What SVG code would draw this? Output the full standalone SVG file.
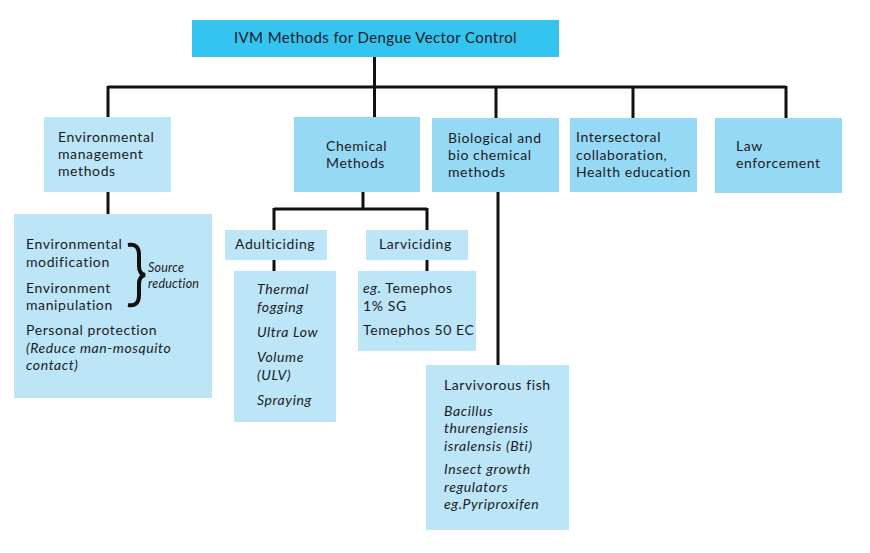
<svg xmlns="http://www.w3.org/2000/svg" width="870" height="553" viewBox="0 0 870 553">
<style>
.top{fill:#33c5f0}
.mid{fill:#96d9f5}
.lt{fill:#bce5f8}
text{font-family:Lato,"Liberation Sans",sans-serif;font-size:14px;fill:#1b1b24;letter-spacing:0.6px}
.i{font-style:italic}
.s{font-size:12.5px;font-style:italic;letter-spacing:0.2px}
.c{fill:none;stroke:#111;stroke-width:3}
</style>
<rect width="870" height="553" fill="#fff"/>
<g id="connectors">
<path class="c" d="M374.5 57V87M108 87H786M108 86V117M374.5 86V117M496 86V118M633 86V118M786 86V118"/>
<path class="c" d="M108 192V214"/>
<path class="c" d="M363 192V209M274 209H427M274 208V230M427 208V230M274 260V271M427 260V271"/>
<path class="c" d="M498 192V365"/>
</g>
<g id="n-top"><rect class="top" x="192" y="20" width="367" height="37"/><text x="375.5" y="43" text-anchor="middle" style="font-size:15px;letter-spacing:0.4px">IVM Methods for Dengue Vector Control</text></g>
<g id="n-env"><rect class="lt" x="44" y="117" width="127" height="75"/><text x="58" y="142">Environmental</text><text x="58" y="159">management</text><text x="58" y="176">methods</text></g>
<g id="n-chem"><rect class="mid" x="294" y="117" width="126" height="75"/><text x="326" y="151">Chemical</text><text x="326" y="168">Methods</text></g>
<g id="n-bio"><rect class="mid" x="432" y="118" width="127" height="74"/><text x="448" y="143">Biological and</text><text x="448" y="160">bio chemical</text><text x="448" y="177">methods</text></g>
<g id="n-inter"><rect class="mid" x="570" y="118" width="127" height="74"/><text x="576" y="142">Intersectoral</text><text x="576" y="160">collaboration,</text><text x="576" y="177">Health education</text></g>
<g id="n-law"><rect class="mid" x="715" y="118" width="127" height="75"/><text x="736" y="151">Law</text><text x="736" y="168">enforcement</text></g>
<g id="n-envdetail"><rect class="lt" x="14" y="214" width="198" height="184"/>
<text x="26" y="249">Environmental</text><text x="26" y="267">modification</text><text x="26" y="293">Environment</text><text x="26" y="310">manipulation</text><text x="26" y="335">Personal protection</text><text x="26" y="353" class="i">(Reduce man-mosquito</text><text x="26" y="370" class="i">contact)</text>
<path d="M128 245Q139 243 139 255V266Q139 274 145 275Q139 276 139 284V295Q139 307 128 305" fill="none" stroke="#111" stroke-width="4"/>
<text x="148" y="272" class="s">Source</text><text x="148" y="288" class="s">reduction</text></g>
<g id="n-adult"><rect class="lt" x="225" y="230" width="102" height="30"/><text x="235" y="249">Adulticiding</text></g>
<g id="n-larvi"><rect class="lt" x="366" y="230" width="102" height="30"/><text x="379" y="249">Larviciding</text></g>
<g id="n-adultdetail"><rect class="lt" x="234" y="271" width="102" height="151"/>
<text x="257" y="294" class="i">Thermal</text><text x="257" y="312" class="i">fogging</text><text x="257" y="337" class="i">Ultra Low</text><text x="257" y="362" class="i">Volume</text><text x="257" y="380" class="i">(ULV)</text><text x="257" y="405" class="i">Spraying</text></g>
<g id="n-larvidetail"><rect class="lt" x="358" y="271" width="118" height="80"/>
<text x="363" y="293"><tspan class="i">eg.</tspan> Temephos</text><text x="363" y="311">1% SG</text><text x="363" y="335">Temephos 50 EC</text></g>
<g id="n-biodetail"><rect class="lt" x="426" y="365" width="143" height="165"/>
<text x="444" y="390">Larvivorous fish</text><text x="444" y="416" class="i">Bacillus</text><text x="444" y="433" class="i">thurengiensis</text><text x="444" y="451" class="i">isralensis (Bti)</text><text x="444" y="474" class="i">Insect growth</text><text x="444" y="492" class="i">regulators</text><text x="444" y="509" class="i">eg.Pyriproxifen</text></g>
</svg>
